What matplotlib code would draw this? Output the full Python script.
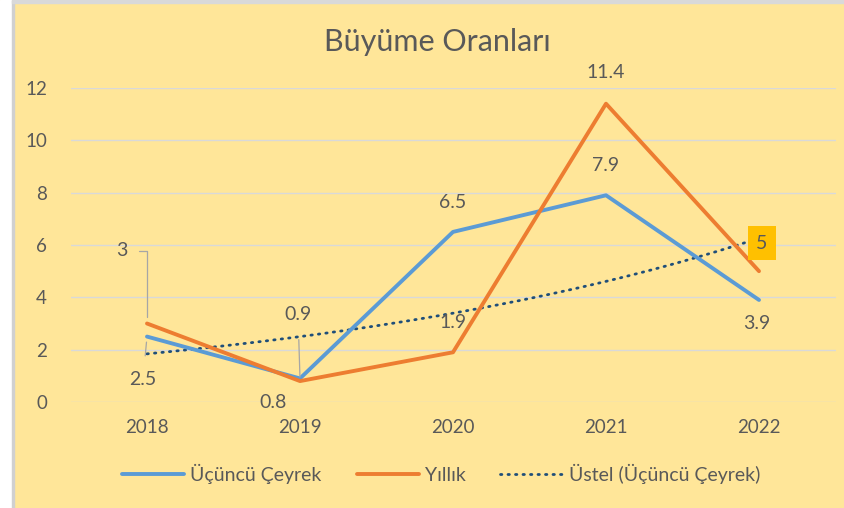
import numpy as np
import matplotlib.pyplot as plt
from matplotlib.patches import Rectangle

years = ['2018', '2019', '2020', '2021', '2022']
ucuncu_ceyrek = [2.5, 0.9, 6.5, 7.9, 3.9]
yillik = [3, 0.8, 1.9, 11.4, 5]

# label offsets in pixels (dx, dy) relative to the point
blue_offsets = [(-4, -43), (-2, 64), (0, 29), (0, 30), (-2, -24)]
orange_offsets = [(-25, 73), (-27, -21), (0, 30), (0, 31), (3, 28)]

plt.rcParams['font.family'] = ['Lato', 'DejaVu Sans']
txt_color = '#595959'
bg = '#FFE699'

fig = plt.figure(figsize=(8.44, 5.08), dpi=100, facecolor=bg)
# left white margin + grey frame edge
fig.patches.append(Rectangle((0, 0), 12 / 844, 1, transform=fig.transFigure, color='white', zorder=-5))
fig.patches.append(Rectangle((12 / 844, 0), 2 / 844, 1, transform=fig.transFigure, color='#D0D0D0', zorder=-5))
fig.patches.append(Rectangle((12 / 844, 1 - 3 / 508), 1, 3 / 508, transform=fig.transFigure, color='#D9D9D9', zorder=-5))

ax = fig.add_axes([70.5 / 844, 1 - 402 / 508, 765 / 844, 314 / 508])
ax.set_facecolor(bg)
x = np.arange(len(years))

ax.plot(x, ucuncu_ceyrek, color='#5B9BD5', lw=2.8, solid_capstyle='round', zorder=3, label='Üçüncü Çeyrek')
ax.plot(x, yillik, color='#ED7D31', lw=2.8, solid_capstyle='round', zorder=3, label='Yıllık')

# exponential trendline on Üçüncü Çeyrek
xs = x + 1
b, a = np.polyfit(xs, np.log(ucuncu_ceyrek), 1)
xt = np.linspace(1, 5, 100)
ax.plot(xt - 1, np.exp(a + b * xt), color='#1F4E79', lw=2, linestyle=(0, (0.5, 2.2)),
        dash_capstyle='round', zorder=2, label='Üstel (Üçüncü Çeyrek)')

ax.set_xlim(-0.5, 4.5)
ax.set_ylim(0, 12)
ax.set_yticks(range(0, 13, 2))
ax.set_xticks(x)
ax.set_xticklabels(years)
ax.grid(axis='y', color='#D9D9D9', lw=1)
ax.set_axisbelow(True)
for s in ax.spines.values():
    s.set_visible(False)
ax.tick_params(length=0, colors=txt_color, labelsize=13.5)
ax.tick_params(axis='y', pad=17)
ax.tick_params(axis='x', pad=12)

lab_kw = dict(textcoords='offset pixels', ha='center', va='center', fontsize=14, color=txt_color, zorder=5)
for i, (v, off) in enumerate(zip(ucuncu_ceyrek, blue_offsets)):
    arrow = None
    if i == 0:
        arrow = dict(arrowstyle='-', color='#A6A6A6', lw=0.9, shrinkA=9, shrinkB=4,
                     connectionstyle='arc3,rad=0')
    if i == 1:
        arrow = dict(arrowstyle='-', color='#A6A6A6', lw=0.9, shrinkA=10, shrinkB=1,
                     connectionstyle='arc3,rad=0')
    ax.annotate(f'{v:g}', xy=(i, v), xytext=off, arrowprops=arrow, **lab_kw)

for i, (v, off) in enumerate(zip(yillik, orange_offsets)):
    arrow = None
    extra = {}
    if i == 0:
        arrow = dict(arrowstyle='-', color='#A6A6A6', lw=0.9, shrinkA=6, shrinkB=5,
                     connectionstyle='angle,angleA=0,angleB=90,rad=0')
    if i == 4:
        extra['bbox'] = dict(boxstyle='square,pad=0.45', facecolor='#FFC000', edgecolor='none')
    ax.annotate(f'{v:g}', xy=(i, v), xytext=off, arrowprops=arrow, **lab_kw, **extra)

fig.text(437 / 844, 1 - 42 / 508, 'Büyüme Oranları', ha='center', va='center', fontsize=22, color=txt_color)

fig.legend(loc='center', bbox_to_anchor=(441 / 844, 1 - 474 / 508), ncol=3, frameon=False,
           fontsize=14, labelcolor=txt_color, handlelength=3.2, handletextpad=0.3, columnspacing=1.8)

fig.savefig('out.png', dpi=100, facecolor=bg)
